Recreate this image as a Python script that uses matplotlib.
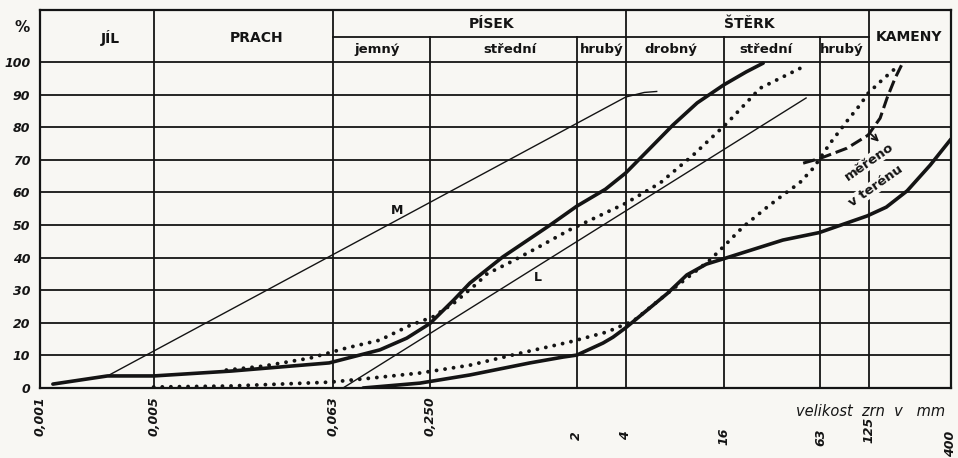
import matplotlib.pyplot as plt
import matplotlib.transforms as mtransforms

# grain size (mm) and passing (%)
fine_x = [0.0012, 0.0026, 0.005, 0.015, 0.06, 0.123, 0.18, 0.25, 0.35, 0.44, 0.70, 1.37, 2.0, 3.0, 4.0, 5.5, 7.8, 11.0, 16.0, 22.0, 28.0]
fine_y = [1.2, 3.7, 3.7, 5.2, 7.7, 11.7, 15.3, 19.8, 27.0, 32.2, 40.2, 50.0, 55.8, 61.0, 66.0, 73.0, 80.7, 87.5, 93.0, 97.0, 99.7]

fine_dot_x = [0.014, 0.0235, 0.046, 0.077, 0.123, 0.19, 0.26, 0.35, 0.49, 0.56, 0.78, 1.14, 1.8, 2.3, 4.0, 6.5, 10.4, 16.8, 26.8, 49.0]
fine_dot_y = [5.5, 6.7, 9.2, 12.3, 14.7, 19.3, 21.8, 26.0, 32.2, 35.0, 38.6, 43.0, 48.5, 51.0, 56.7, 62.9, 71.5, 81.3, 92.0, 98.5]

coarse_x = [0.097, 0.217, 0.44, 1.03, 1.65, 2.0, 2.9, 3.34, 4.0, 5.6, 7.2, 9.5, 12.5, 16.8, 37.0, 62.0, 122.0, 160.0, 215.0, 298.0, 400.0]
coarse_y = [0.0, 1.5, 4.0, 7.7, 9.5, 10.1, 13.8, 15.6, 18.5, 24.5, 29.0, 34.7, 38.0, 40.0, 45.4, 47.7, 52.8, 55.5, 60.5, 68.4, 76.4]

coarse_dot_x = [0.005, 0.0147, 0.061, 0.107, 0.217, 0.44, 0.9, 1.8, 3.07, 3.85, 4.44, 7.2, 13.2, 16.8, 21.0, 29.6, 37.0, 47.0, 57.0, 72.0, 92.0, 110.0, 124.0, 147.0, 176.0, 189.0]
coarse_dot_y = [0.3, 0.6, 1.8, 3.0, 4.6, 7.0, 10.7, 14.1, 17.2, 19.3, 20.5, 29.0, 39.3, 44.5, 49.4, 55.5, 59.2, 63.0, 67.5, 75.0, 82.0, 86.8, 90.5, 94.0, 97.5, 98.5]

field_x = [49.3, 63.0, 91.8, 123.7, 146.6, 161.8, 181.0, 200.0, 209.0]
field_y = [69.0, 70.5, 73.6, 77.6, 82.8, 89.0, 95.0, 99.4, 100.0]

m_x = [0.0026, 4.0, 5.2, 6.2]
m_y = [3.7, 89.3, 90.7, 91.0]

l_x = [0.073, 51.4]
l_y = [0.0, 89.0]

# classification
borders_full = [0.005, 0.063, 4, 125]
borders_sub = [0.25, 2, 16, 63]
main_classes = [("JÍL", 0.0027, 107.5), ("PRACH", 0.0215, 107.5), ("PÍSEK", 0.6, 111.8),
                ("ŠTĚRK", 23.0, 111.8), ("KAMENY", 220.0, 107.8)]
sub_classes = [("jemný", 0.118, 103.8), ("střední", 0.78, 103.8), ("hrubý", 2.85, 103.8),
               ("drobný", 7.6, 103.8), ("střední", 29.0, 103.8), ("hrubý", 85.0, 103.8)]

ticks_low = ["0,001", "0,005", "0,063", "0,250"]
ticks_low_x = [0.001, 0.005, 0.063, 0.25]
ticks_high = ["2", "4", "16", "63", "125", "400"]
ticks_high_x = [2, 4, 16, 63, 125, 400]
ticks_high_py = [436, 436, 436, 437, 430, 444]

paper = "#f8f7f3"
ink = "#141414"

fig = plt.figure(figsize=(9.58, 4.58), dpi=100, facecolor=paper)
ax = fig.add_axes([40 / 958, 1 - 388 / 458, 911 / 958, 378 / 458], facecolor=paper)
ax.set_xscale("log")
ax.set_xlim(0.001, 400)
ax.set_ylim(0, 116)
for s in ax.spines.values():
    s.set_linewidth(1.6)
    s.set_color(ink)
ax.tick_params(length=0)
ax.set_xticks([])
ax.set_xticks([], minor=True)
ax.set_yticks(range(0, 101, 10))
ax.set_yticklabels([str(v) for v in range(0, 101, 10)], fontsize=9, fontstyle="italic",
                   fontweight="bold", color=ink)
ax.tick_params(axis="y", pad=7)

# grid
for v in range(10, 101, 10):
    ax.axhline(v, color=ink, lw=1.3, zorder=1)
for b in borders_full:
    ax.plot([b, b], [0, 116], color=ink, lw=1.3, zorder=1)
for b in borders_sub:
    ax.plot([b, b], [0, 107.7], color=ink, lw=1.3, zorder=1)
ax.plot([0.063, 125], [107.7, 107.7], color=ink, lw=1.3, zorder=1)

for t, x, y in main_classes:
    ax.text(x, y, t, ha="center", va="center", fontsize=10, fontweight="bold", color=ink)
for t, x, y in sub_classes:
    ax.text(x, y, t, ha="center", va="center", fontsize=9.5, fontweight="bold", color=ink)
fig.text(22 / 958, 1 - 28 / 458, "%", ha="center", va="center", fontsize=11,
         fontweight="bold", color=ink)

# curves
ax.plot(fine_x, fine_y, color=ink, lw=2.6, solid_capstyle="round", solid_joinstyle="round", zorder=3)
ax.plot(coarse_x, coarse_y, color=ink, lw=2.6, solid_capstyle="round", solid_joinstyle="round", zorder=3)
ax.plot(fine_dot_x, fine_dot_y, color=ink, lw=2.8, ls=(0, (0.01, 2.2)),
        dash_capstyle="round", zorder=3)
ax.plot(coarse_dot_x, coarse_dot_y, color=ink, lw=2.8, ls=(0, (0.01, 2.2)),
        dash_capstyle="round", zorder=3)
ax.plot(field_x, field_y, color=ink, lw=2.2, ls=(0, (4, 1.6)), zorder=3)
ax.plot(m_x, m_y, color=ink, lw=1.0, zorder=2)
ax.plot(l_x, l_y, color=ink, lw=1.0, zorder=2)

ax.text(0.157, 54.6, "M", ha="center", va="center", fontsize=9, fontweight="bold", color=ink)
ax.text(1.156, 34.0, "L", ha="center", va="center", fontsize=9, fontweight="bold", color=ink)

ax.annotate("", xy=(148.6, 75.0), xytext=(125, 78.5),
            arrowprops=dict(arrowstyle="->", lw=1.3, color=ink), zorder=4)
ax.text(125, 69.3, "měřeno", rotation=35, ha="center", va="center", fontsize=9.5,
        fontweight="bold", color=ink, zorder=4,
        bbox=dict(boxstyle="square,pad=0.05", fc=paper, ec="none"))
ax.text(138.5, 62.0, "v terénu", rotation=35, ha="center", va="center", fontsize=9.5,
        fontweight="bold", color=ink, zorder=4,
        bbox=dict(boxstyle="square,pad=0.05", fc=paper, ec="none"))

# x labels
trans = mtransforms.blended_transform_factory(ax.transData, fig.transFigure)
for t, x in zip(ticks_low, ticks_low_x):
    fig.text(x, 1 - 396 / 458, t, rotation=90, ha="center", va="top", fontsize=9,
             fontstyle="italic", fontweight="bold", color=ink, transform=trans)
for t, x, py in zip(ticks_high, ticks_high_x, ticks_high_py):
    fig.text(x, 1 - py / 458, t, rotation=90, ha="center", va="center", fontsize=9,
             fontstyle="italic", fontweight="bold", color=ink, transform=trans)
fig.text(945 / 958, 1 - 411 / 458, "velikost  zrn  v   mm", ha="right", va="center",
         fontsize=10.5, fontstyle="italic", color=ink)

fig.savefig("out.png", dpi=100, facecolor=paper)
